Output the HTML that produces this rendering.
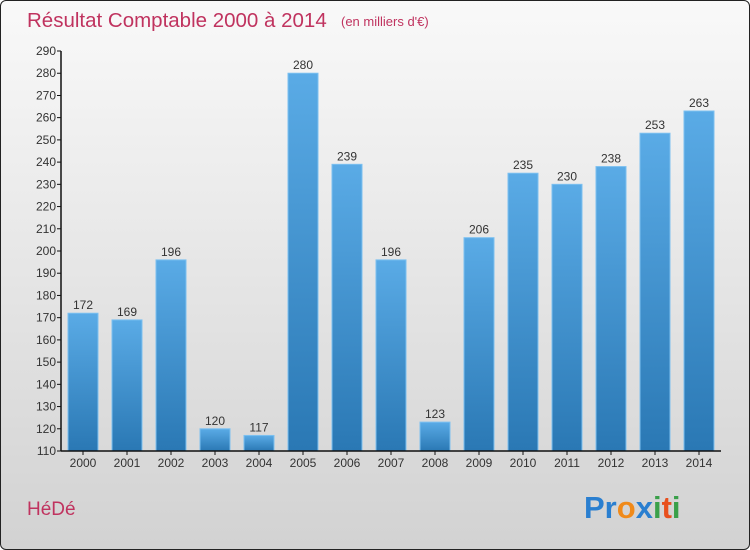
<!DOCTYPE html>
<html><head><meta charset="utf-8"><style>
body{margin:0}
#c{width:748px;height:548px;border:1px solid #222;border-radius:6px;background:linear-gradient(#f9f9f9,#d2d2d2);position:relative;overflow:hidden;font-family:"Liberation Sans","DejaVu Sans",sans-serif}
</style></head><body>
<div id="c">
<svg id="s" width="748" height="548" style="position:absolute;left:0;top:0">
<defs><linearGradient id="g" x1="0" y1="0" x2="0" y2="1"><stop offset="0" stop-color="#5aabe6"/><stop offset="1" stop-color="#2a78b4"/></linearGradient></defs>
<text x="26" y="26" font-size="20.5" fill="#c0335f">Résultat Comptable 2000 à 2014</text>
<text x="340" y="25" font-size="13" fill="#c0335f">(en milliers d'€)</text>
<text x="26" y="514" font-size="19" fill="#c0335f">HéDé</text>
<g font-size="31" font-weight="bold">
<text x="583" y="517"><tspan fill="#2a7fd0">Pr</tspan><tspan fill="#f08a1a">o</tspan><tspan fill="#2a7fd0">x</tspan><tspan fill="#3aa04a">i</tspan><tspan fill="#e8501e">t</tspan><tspan fill="#3aa04a">i</tspan></text>
</g>
<g id="plot"></g>
</svg>
</div>
<script>
const years=["2000","2001","2002","2003","2004","2005","2006","2007","2008","2009","2010","2011","2012","2013","2014"];
const values=[172,169,196,120,117,280,239,196,123,206,235,230,238,253,263];
const ticks=[110,120,130,140,150,160,170,180,190,200,210,220,230,240,250,260,270,280,290];
const ns="http://www.w3.org/2000/svg";
const g=document.getElementById('plot');
const x0=60,band=44,bw=30,yMin=110,yMax=290,yTop=50,yBot=450;
function y(v){return yBot-(v-yMin)/(yMax-yMin)*(yBot-yTop);}
function xc(i){return x0+band*i+band/2;}
function el(t,a){const e=document.createElementNS(ns,t);for(const k in a)e.setAttribute(k,a[k]);g.appendChild(e);return e;}
values.forEach((v,i)=>{
 const r=el('rect',{x:xc(i)-bw/2,y:y(v),width:bw,height:yBot-y(v),fill:'url(#g)',stroke:'#7cc0f0','stroke-width':1});
 
 
 const t=el('text',{x:xc(i),y:y(v)-4,'font-size':12,fill:'#333','text-anchor':'middle'});
 t.textContent=v;
 
 
 const xl=el('text',{x:xc(i),y:yBot+16,'font-size':12,fill:'#333','text-anchor':'middle'});
 xl.textContent=years[i];
 
 
 const tk=el('line',{x1:xc(i),x2:xc(i),y1:yBot,y2:yBot+4,stroke:'#111'});
 
 
});
ticks.forEach(v=>{
 const l=el('line',{x1:x0-4,x2:x0,y1:y(v),y2:y(v),stroke:'#111'});
 
 
 const t=el('text',{x:x0-5,y:y(v)+4,'font-size':12,fill:'#333','text-anchor':'end'});
 t.textContent=v;
 
 
});
const ya=el('line',{x1:x0,x2:x0,y1:yTop,y2:yBot,stroke:'#111','stroke-width':1.5});


const xa=el('line',{x1:x0,x2:x0+band*years.length,y1:yBot,y2:yBot,stroke:'#111','stroke-width':1.5});


</script>
</body></html>
